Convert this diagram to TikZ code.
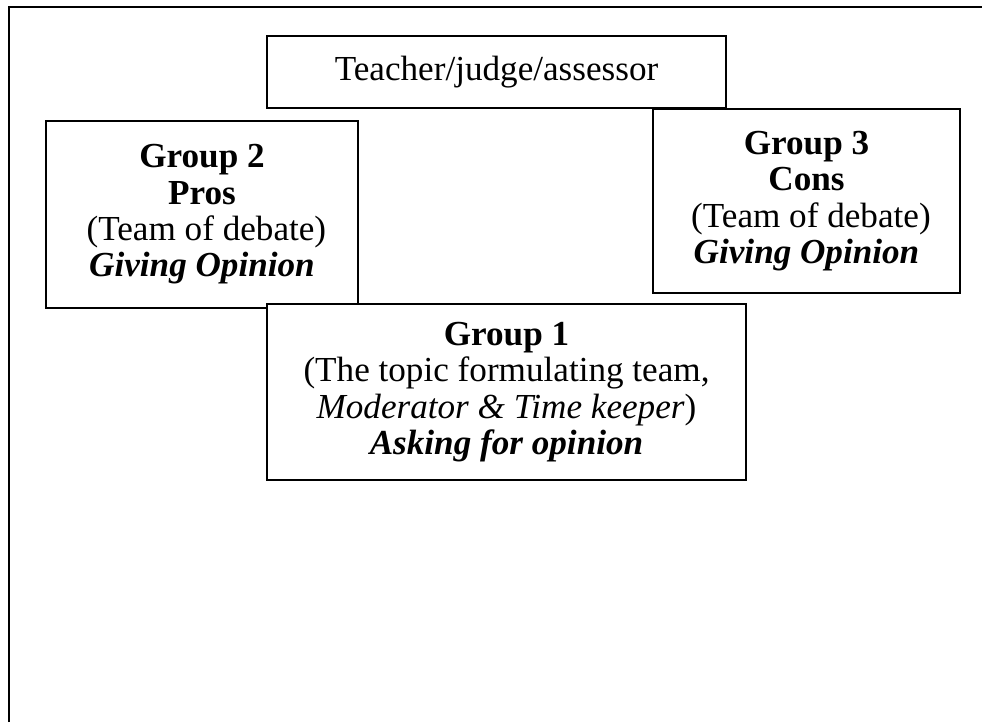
\documentclass[tikz,border=0pt]{standalone}
\usepackage{fontspec}
\setmainfont{Liberation Serif}
\usepackage{tikz}
\usetikzlibrary{positioning}

\begin{document}
\begin{tikzpicture}[
    every node/.style={font=\fontsize{20pt}{20.7pt}\selectfont},
    groupbox/.style={draw, fill=white, line width=1pt, inner sep=0pt, align=center}
]
            \useasboundingbox (0,0) rectangle (19.64,14.44);

            % Outer frame (cut off at right and bottom)
            \draw[line width=1pt] (0.18,0) -- (0.18,14.30) -- (19.64,14.30);

            % Teacher on top
            \node[groupbox, minimum width=9.18cm, minimum height=1.44cm] (teacher) at (9.93,13.0) {Teacher/judge/assessor};

            % Group 2 and Group 3
            \node[groupbox, minimum width=6.24cm, minimum height=3.74cm] (pros) at (4.04,10.15)
                {\textbf{Group 2}\\ \textbf{Pros}\\ \ (Team of debate)\\ \textbf{\textit{Giving Opinion}}\ };
            \node[groupbox, minimum width=6.14cm, minimum height=3.68cm] (cons) at (16.13,10.42)
                {\textbf{Group 3}\\ \textbf{Cons}\\ \ (Team of debate)\\ \textbf{\textit{Giving Opinion}}\ };

            % Group 1 in front
            \node[groupbox, minimum width=9.58cm, minimum height=3.52cm] (topic) at (10.13,6.60)
                {\textbf{Group 1}\\ (The topic formulating team,\\ \textit{Moderator \& Time keeper})\\ \textbf{\textit{Asking for opinion}}};

        \end{tikzpicture}
\end{document}
